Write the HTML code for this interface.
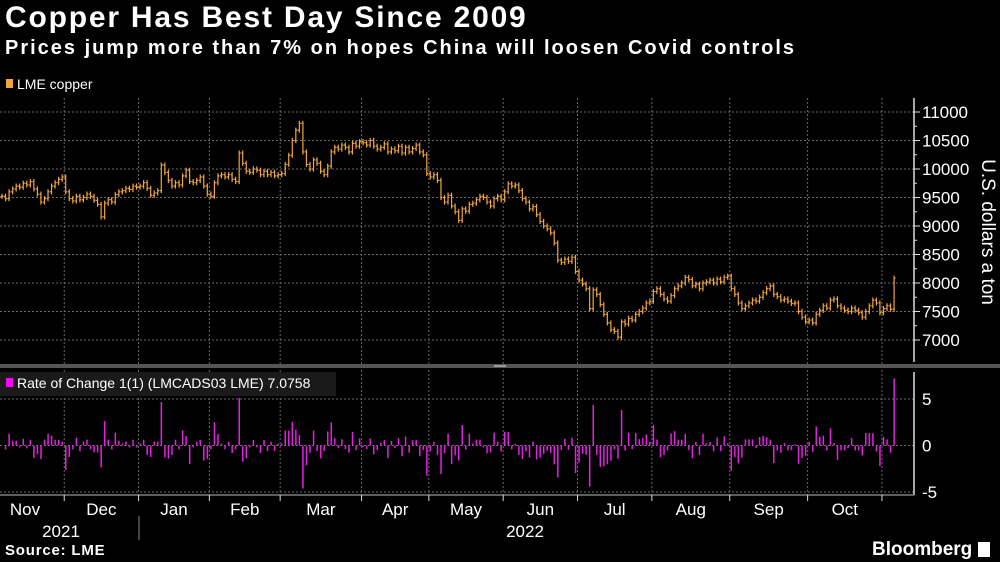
<!DOCTYPE html>
<html><head><meta charset="utf-8">
<style>
body{margin:0;background:#000;width:1000px;height:562px;overflow:hidden;font-family:"Liberation Sans",sans-serif;color:#fff}
.t{position:absolute;white-space:nowrap}
</style></head>
<body>
<div class="t" style="left:5px;top:1px;font-size:30px;font-weight:bold;letter-spacing:1.8px">Copper Has Best Day Since 2009</div>
<div class="t" style="left:5px;top:37px;font-size:20px;font-weight:bold;letter-spacing:2px">Prices jump more than 7% on hopes China will loosen Covid controls</div>
<div class="t" style="left:5px;top:542px;font-size:15px;font-weight:bold;letter-spacing:0.8px">Source: LME</div>
<div class="t" style="left:872px;top:539px;font-size:19px;font-weight:bold">Bloomberg <span style="display:inline-block;width:12px;height:15px;background:#fff;vertical-align:-2px"></span></div>
<svg id="c" width="1000" height="562" style="position:absolute;left:0;top:0" xmlns="http://www.w3.org/2000/svg"></svg>
<script>
const monthLabels=["Nov","Dec","Jan","Feb","Mar","Apr","May","Jun","Jul","Aug","Sep","Oct"];
const monthDays=[18,21,20,20,23,19,21,21,21,22,22,21,4];
const priceTicks=[7000,7500,8000,8500,9000,9500,10000,10500,11000];
const rocTicks=[-5,0,5];
const closes=[
9520,9480,9600,9650,9700,9680,9750,9720,9780,9650,9560,9420,9480,9600,9700,9760,9820,9860,
9600,9480,9440,9520,9460,9500,9560,9520,9450,9380,9160,9400,9460,9420,9550,9600,9620,9660,9640,9700,9680,
9700,9760,9660,9540,9580,9620,10070,9940,9800,9700,9760,9720,9880,9980,9780,9760,9800,9860,9700,9560,
9520,9760,9880,9900,9860,9900,9820,9780,10280,10100,9960,9940,10000,9980,9900,9960,9900,9940,9880,9900,
9920,10080,10240,10500,10680,10800,10300,10080,10000,10160,10100,9960,9900,10050,10300,10380,10350,10420,10380,10300,10450,10400,10480,
10460,10420,10500,10400,10350,10380,10440,10300,10350,10320,10400,10280,10380,10300,10360,10420,10300,10250,9920,
9860,9900,9800,9500,9420,9540,9350,9250,9100,9300,9260,9380,9400,9460,9520,9500,9420,9350,9480,9520,9460,
9600,9740,9700,9720,9620,9480,9420,9300,9340,9200,9080,9000,8950,8880,8700,8400,8360,8420,8380,8450,8200,
8050,7980,7900,7550,7880,7800,7620,7450,7300,7180,7150,7050,7320,7280,7380,7350,7450,7500,7560,7650,7680,
7850,7900,7800,7720,7680,7780,7900,7950,8000,8100,8060,7950,7980,7900,8000,8020,8050,8000,8070,8020,8100,8120,
7900,7800,7650,7550,7600,7650,7700,7680,7750,7830,7900,7950,7800,7760,7700,7720,7680,7640,7650,7500,7400,7320,
7350,7300,7450,7520,7600,7560,7700,7720,7600,7560,7520,7500,7560,7520,7480,7400,7500,7600,7700,7650,7480,
7550,7600,7540,8084];
const yearLabels=["2021","2022"];

const svg=document.getElementById('c');
const NS='http://www.w3.org/2000/svg';
function el(tag,attrs,parent){const e=document.createElementNS(NS,tag);for(const k in attrs)e.setAttribute(k,attrs[k]);(parent||svg).appendChild(e);return e;}
const X0=2, STEP=3.54;
const xs=i=>X0+i*STEP;
const yP=p=>112+(11000-p)*0.057;
const yR=v=>445.5-v*9.3;
const AX=914;

priceTicks.forEach(t=>{
 const g=el('line',{x1:0,x2:AX,y1:yP(t),y2:yP(t),stroke:'#6a6a6a','stroke-width':1,'stroke-dasharray':'2,2'});
 
 const tk=el('line',{x1:AX,x2:AX+6,y1:yP(t),y2:yP(t),stroke:'#ddd'});
 
 const tx=el('text',{x:922,y:yP(t)+6,fill:'#fff','font-size':17,'font-family':'Liberation Sans, sans-serif'});
 tx.textContent=t;
 
});
for(let p=7250;p<11000;p+=500){const m=el('line',{x1:AX,x2:AX+3,y1:yP(p),y2:yP(p),stroke:'#ddd'});}
rocTicks.forEach(t=>{
 const g=el('line',{x1:0,x2:AX,y1:yR(t),y2:yR(t),stroke:'#6a6a6a','stroke-dasharray':'2,2'});
 
 const tx=el('text',{x:922,y:yR(t)+6,fill:'#fff','font-size':17,'font-family':'Liberation Sans, sans-serif'});
 tx.textContent=t;
 
});
let idx=0;
monthDays.forEach((n,m)=>{
 const start=xs(idx)-1.5, end=xs(idx+n)-1.5;
 if(m>0){
  const v=el('line',{x1:start,x2:start,y1:98,y2:495,stroke:'#6a6a6a','stroke-dasharray':'2,2'});
  
  const tk=el('line',{x1:start,x2:start,y1:495,y2:501,stroke:'#ddd'});
  
 }
 if(m<monthLabels.length){
  const cx=m===0?25:(start+end)/2;
  const tx=el('text',{x:cx,y:515,fill:'#fff','font-size':17,'text-anchor':'middle','font-family':'Liberation Sans, sans-serif'});
  tx.textContent=monthLabels[m];
  
 }
 idx+=n;
});
const y1=el('text',{x:61,y:537,fill:'#fff','font-size':17,'text-anchor':'middle','font-family':'Liberation Sans, sans-serif'});y1.textContent=yearLabels[0];

const y2=el('text',{x:525,y:537,fill:'#fff','font-size':17,'text-anchor':'middle','font-family':'Liberation Sans, sans-serif'});y2.textContent=yearLabels[1];

const ys=el('line',{x1:139,x2:139,y1:516,y2:540,stroke:'#888'});

const ax=el('line',{x1:AX,x2:AX,y1:98,y2:362,stroke:'#ddd','stroke-width':1.5});
const ax2=el('line',{x1:AX,x2:AX,y1:372,y2:495,stroke:'#ddd','stroke-width':1.5});
const bx=el('line',{x1:0,x2:AX,y1:495,y2:495,stroke:'#bbb'});
const dv=el('rect',{x:0,y:364,width:1000,height:4,fill:'#555'});
const hd=el('rect',{x:494,y:365,width:12,height:2,fill:'#999'});

const yt=el('text',{x:0,y:0,fill:'#fff','font-size':19,'text-anchor':'middle','font-family':'Liberation Sans, sans-serif',transform:'translate(982,232) rotate(90)'});
yt.textContent='U.S. dollars a ton';

const og=el('g',{stroke:'#f2a53a','stroke-width':1.2});
closes.forEach((c,i)=>{
 const o=i>0?closes[i-1]:c;
 const hi=Math.max(o,c)+45, lo=Math.min(o,c)-45;
 const x=xs(i);
 const b=el('path',{d:`M${x},${yP(hi)}V${yP(lo)}M${x-1.5},${yP(o)}H${x}M${x},${yP(c)}H${x+1.5}`,fill:'none'},og);
 
});
const rg=el('g',{fill:'#e61ee6'});
closes.forEach((c,i)=>{
 if(i===0)return;
 const v=(c/closes[i-1]-1)*100;
 const y=Math.min(yR(v),yR(0)),h=Math.abs(yR(v)-yR(0));
 const r=el('rect',{x:xs(i)-0.7,y:y,width:1.5,height:Math.max(h,0.5)},rg);
 
});

const lg=el('g',{});
el('rect',{x:6,y:79,width:7,height:9,fill:'#f2a53a'},lg);
const lt=el('text',{x:17,y:89,fill:'#fff','font-size':14,'font-family':'Liberation Sans, sans-serif'},lg);lt.textContent='LME copper';
const rl=el('g',{});
el('rect',{x:0,y:372,width:336,height:24,fill:'#1a1a1a'},rl);
el('rect',{x:6,y:378,width:7,height:9,fill:'#ff00ff'},rl);
const rt=el('text',{x:17,y:388,fill:'#fff','font-size':14,'font-family':'Liberation Sans, sans-serif'},rl);rt.textContent='Rate of Change 1(1) (LMCADS03 LME) 7.0758';
</script>
</body></html>
